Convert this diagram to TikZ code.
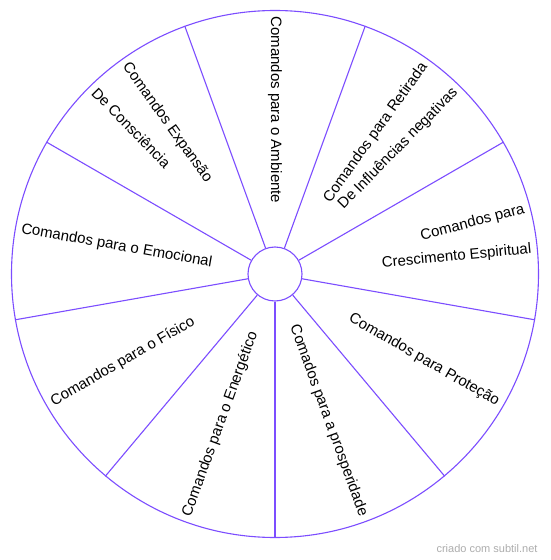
\documentclass[tikz,border=0pt]{standalone}
\usepackage{fontspec}
\setmainfont{Liberation Sans}
\usetikzlibrary{shapes.geometric,positioning,calc}
\definecolor{whLine}{HTML}{7C4DFF}
\definecolor{whMark}{HTML}{ADADAD}
\tikzset{
  wh/.style={font=\fontsize{15}{18}\selectfont, line width=1.1pt},
  rim/.style={circle, draw=whLine, fill=white, inner sep=0pt, minimum size=527pt},
  hub/.style={circle, draw=whLine, fill=white, inner sep=0pt, minimum size=54pt},
  spoke/.style={draw=whLine},
  outward/.style={anchor=east, inner sep=0pt, text=black},
  inward/.style={anchor=west, inner sep=0pt, text=black},
  credit/.style={font=\fontsize{11}{13}\selectfont, text=whMark, anchor=east, inner sep=0pt},
}
\begin{document}
\begin{tikzpicture}[wh]
\path[use as bounding box, fill=white] (-275pt,-286pt) rectangle (275pt,274pt);

\node[rim] (rim) at (0,0) {};
\node[hub] (hub) at (0,0) {};
\foreach \a in {30,70,...,350} \draw[spoke] (hub.\a) -- (rim.\a);

% labels reading from the hub outwards
\foreach \a/\t [count=\i] in {54.5/{Comandos para Retirada}, 45.5/{De Influências negativas},
                              14.5/{Comandos para}, 5.5/{Crescimento Espiritual},
                              -30/{Comandos para Proteção}, -70/{Comados para a prosperidade}}
  \node[outward, rotate=\a] (out\i) at (\a:258pt) {\t};

% labels reading towards the hub
\foreach \a/\t [count=\i] in {90/{Comandos para o Ambiente}, 125.5/{Comandos Expansão},
                              134.5/{De Consciência}, 170/{Comandos para o Emocional},
                              -150/{Comandos para o Físico}, -110/{Comandos para o Energético}}
  \node[inward, rotate=\a-180] (in\i) at (\a:258pt) {\t};

\node[credit] (mark) at (263pt,-275pt) {criado com subtil.net};
\end{tikzpicture}
\end{document}
